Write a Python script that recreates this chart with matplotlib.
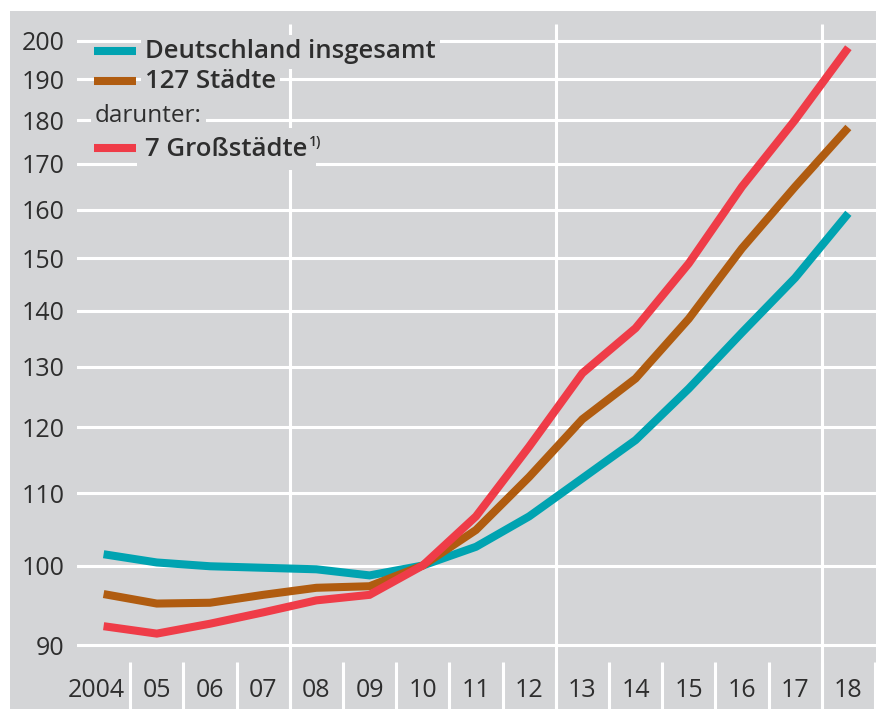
import numpy as np
import matplotlib.pyplot as plt
from matplotlib.patches import Rectangle
from matplotlib.lines import Line2D

# index values (2010 = 100)
years = ["2004", "05", "06", "07", "08", "09", "10", "11", "12",
         "13", "14", "15", "16", "17", "18"]
deutschland = [101.5, 100.4, 99.9, 99.7, 99.5, 98.7, 100.0, 102.5, 106.7,
               112.2, 118.0, 126.3, 136.0, 146.2, 159.2]
staedte_127 = [96.3, 95.1, 95.2, 96.2, 97.1, 97.3, 100.0, 104.8, 112.4,
               121.3, 128.0, 138.5, 152.0, 164.9, 178.3]
grossstaedte_7 = [92.3, 91.4, 92.6, 94.0, 95.5, 96.2, 100.0, 106.7, 117.0,
                  128.9, 136.8, 149.0, 164.9, 180.1, 198.1]
yticks = [90, 100, 110, 120, 130, 140, 150, 160, 170, 180, 190, 200]

GRAY = "#d4d5d7"
TEAL = "#00a3b1"
BROWN = "#b05c10"
RED = "#ef3c48"
TXT = "#2e2e2e"
FONT = "Open Sans"

W, H = 876, 709
fig = plt.figure(figsize=(W / 100, H / 100), dpi=100)
fig.patch.set_facecolor("white")
fig.patches.append(Rectangle((10 / W, 0), 1, (H - 11) / H, transform=fig.transFigure,
                             facecolor=GRAY, edgecolor="none", zorder=0))


def px(x, y):
    return x / W, 1 - y / H


ax = fig.add_axes([77 / W, 0, 1 - 77 / W, (H - 11) / H])
ax.set_zorder(1)
ax.set_facecolor("none")
ax.set_yscale("log")

# pixel -> value mapping of the reference (100 at y=565.5, 200 at y=40.5)
k = 525 / np.log(2)
ylo = 100 * np.exp((565.5 - 709) / k)
yhi = 100 * np.exp((565.5 - 11) / k)
ax.set_ylim(ylo, yhi)
ax.set_xlim(-0.5, 14.52)

x = np.arange(len(years))

for v in yticks:
    ax.axhline(v, color="white", lw=2.2, zorder=1)

y_top = 100 * np.exp((565.5 - 24) / k)
ax.vlines([3.5, 8.5, 13.5], ylo, y_top, color="white", lw=2.2, zorder=1)
sep_top = 100 * np.exp((565.5 - 662) / k)
ax.vlines(np.arange(0.5, 14.6, 1.0), ylo, sep_top, color="white", lw=2.2, zorder=1)

for vals, col in [(deutschland, TEAL), (staedte_127, BROWN), (grossstaedte_7, RED)]:
    ax.plot(x, vals, color=col, lw=5.8, solid_capstyle="butt",
            solid_joinstyle="miter", zorder=3)

ax.set_yticks(yticks)
ax.set_yticklabels([str(v) for v in yticks], fontsize=18, color=TXT, family=FONT)
ax.yaxis.set_minor_locator(plt.NullLocator())
ax.yaxis.set_minor_formatter(plt.NullFormatter())
ax.tick_params(axis="y", length=0, pad=9)
ax.set_xticks([])
for s in ax.spines.values():
    s.set_visible(False)

lab_y = 100 * np.exp((565.5 - 690) / k)
for i, lab in enumerate(years):
    xi = i - 0.13 if i == 0 else i
    ax.text(xi, lab_y, lab, ha="center", va="center", fontsize=18,
            color=TXT, family=FONT)

# legend
box = dict(facecolor=GRAY, edgecolor="none", pad=3)
entries = [(TEAL, 51, "Deutschland insgesamt"), (BROWN, 81, "127 Städte")]
for col, yy, lab in entries:
    fig.add_artist(Line2D([94 / W, 136 / W], [1 - yy / H] * 2, color=col, lw=5.8,
                          solid_capstyle="butt", transform=fig.transFigure, zorder=5))
    fig.text(*px(145, yy + 1), lab, ha="left", va="center", fontsize=18.5,
             fontweight="semibold", color=TXT, family=FONT, bbox=box, zorder=4)
fig.text(*px(95, 116), "darunter:", ha="left", va="center", fontsize=17.5,
         color=TXT, family=FONT, bbox=box, zorder=4)
fig.add_artist(Line2D([94 / W, 136 / W], [1 - 148 / H] * 2, color=RED, lw=5.8,
                      solid_capstyle="butt", transform=fig.transFigure, zorder=5))
fig.text(*px(145, 149), "7 Großstädte", ha="left", va="center", fontsize=18.5,
         fontweight="semibold", color=TXT, family=FONT,
         bbox=dict(facecolor=GRAY, edgecolor="none", pad=6), zorder=4)
fig.text(*px(309, 142), "1)", ha="left", va="center", fontsize=10,
         fontweight="semibold", color=TXT, family=FONT, zorder=6)

fig.savefig("out.png", dpi=100)
